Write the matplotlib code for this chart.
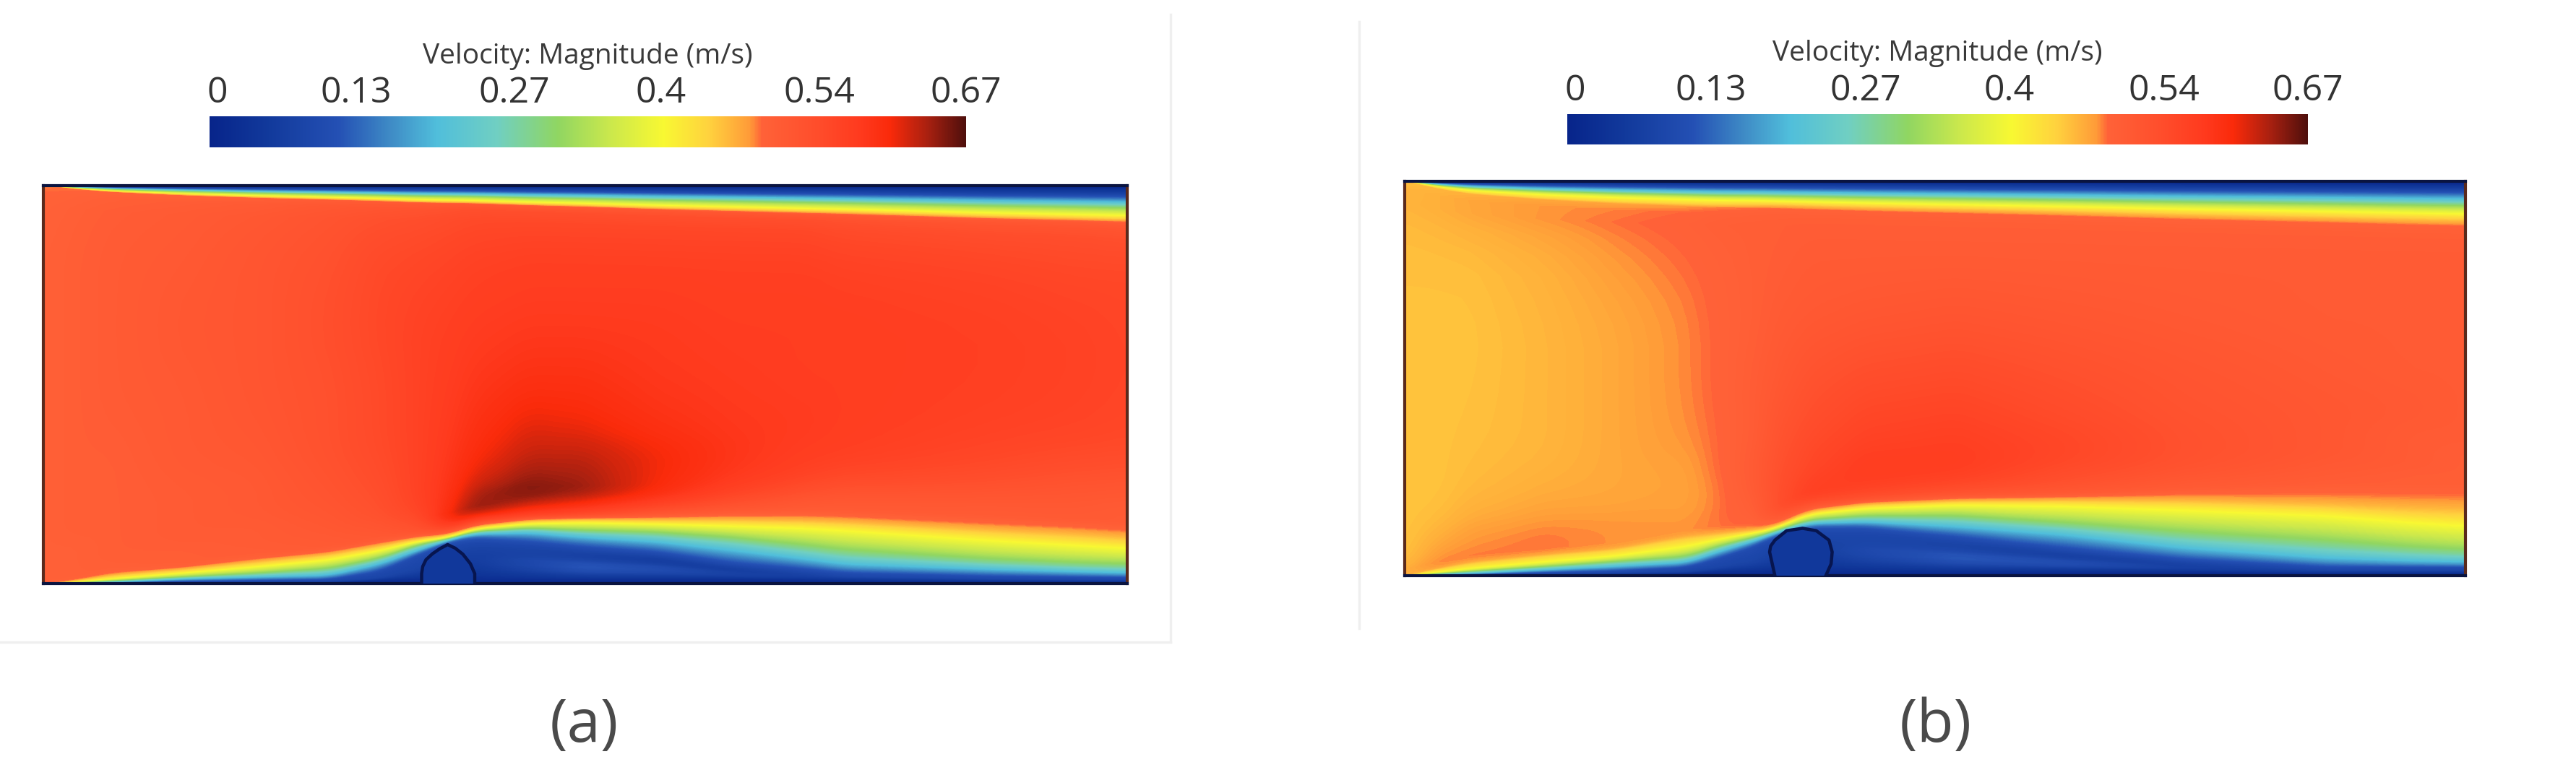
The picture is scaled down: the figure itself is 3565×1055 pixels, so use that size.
import numpy as np
import matplotlib
matplotlib.use("Agg")
import matplotlib.pyplot as plt
from matplotlib.cm import ScalarMappable
from matplotlib.colors import LinearSegmentedColormap, Normalize
from matplotlib.lines import Line2D

plt.rcParams['font.family'] = ['Open Sans', 'DejaVu Sans']

W, H = 3565, 1055
VMAX = 0.67
tick_values = [0.007, 0.13, 0.27, 0.40, 0.54, 0.67]  # first label sits slightly inside the bar
tick_labels = ["0", "0.13", "0.27", "0.4", "0.54", "0.67"]
cbar_title = "Velocity: Magnitude (m/s)"

# colour scale
cmap_pos = [0, .08, .17, .24, .30, .38, .46, .53, .60, .66, .715, .73, .80, .86, .90, .95, 1]
cmap_col = ['#07248a', '#123a9c', '#2450b4', '#3f8cc6', '#50bedb', '#70cfc2', '#90d662', '#cbe84c',
            '#f8f832', '#ffd23e', '#ff9a38', '#ff6238', '#ff4e2c', '#ff3a1e', '#fa2a0a', '#a82010', '#4f0f0c']
cmap = LinearSegmentedColormap.from_list("vel", list(zip(cmap_pos, cmap_col)), N=512)

# speeds of the shear layer rows
lev_dark, lev_blue, lev_cyan, lev_green, lev_yellow = 0.03, 0.10, 0.20, 0.31, 0.40
eta_rows = [0, .04, .08, .13, .2, .3, .45, .65, .85, 1]

# ---- panel a: heights in % of channel, x in % of length ----
a_x = [0, 3, 6.3, 13, 19.6, 26.3, 31, 34.6, 37.3, 39.7, 44.8, 49.9, 56.6, 63.4, 70.2, 74, 87.2, 95, 100]
a_blue = [0, .1, .2, .6, .8, 1.0, 3.0, 7.3, 10.3, 11.5, 10.6, 9.1, 7.8, 5.0, 3.5, 2.6, 1.8, 1.6, 1.5]
a_cyan = [0, .2, .4, 1.2, 1.7, 2.1, 5.0, 8.5, 10.9, 12.5, 12.9, 11.8, 10.6, 8.5, 6.2, 4.8, 3.6, 3.0, 2.7]
a_green = [0, .3, .8, 1.8, 2.7, 3.9, 6.5, 10, 11.3, 13.2, 14.1, 13.5, 13.1, 11.8, 9.8, 8.5, 6.1, 5.2, 4.8]
a_yellow = [0, .5, 1.2, 2.7, 4.2, 6, 8.3, 10.7, 11.6, 13.8, 15.1, 15.4, 15, 14.5, 14, 13.4, 10.9, 9.6, 8.8]
a_orange = [0, .9, 2.4, 3.9, 5.8, 7.6, 9.8, 11.6, 12.3, 14.4, 16, 16.3, 16.3, 16.4, 16.2, 15.9, 14.0, 13, 12.1]
a_core = [0, 1.3, 3, 4.5, 6.7, 8.5, 11, 12.6, 13, 15.4, 16.9, 17.2, 17.6, 18, 18.2, 18.0, 16.5, 15.6, 14.8]
a_low = [.05, .05, .05, .06, .06, .07, .08, .08, .06, .06, .10, .14, .12, .08, .06, .05, .05, .05, .05]
a_mid = [.08, .08, .08, .09, .09, .09, .09, .09, .08, .07, .07, .06, .05, .06, .08, .09, .09, .09, .09]
a_orange_v = [.47] * 19
a_top = [0, .8, 1.4, 2.1, 2.6, 3, 3.3, 3.6, 3.7, 3.8, 4.2, 4.5, 5, 5.4, 5.8, 6, 6.9, 7.3, 7.6]
a_ratio = [.12, .36, .55, .74, 1.0, 1.17, 1.3]  # depth of dark..core relative to the yellow line
a_field = [
    [.495, .495, .495, .50, .50, .505, .51, .52, .53, .54, .55, .54, .52, .51, .505, .505, .505, .505, .505],
    [.495, .495, .50, .50, .505, .51, .52, .54, .60, .645, .62, .60, .57, .54, .52, .515, .51, .51, .505],
    [.495, .495, .50, .505, .505, .515, .53, .555, .59, .635, .655, .64, .60, .565, .54, .53, .52, .515, .51],
    [.495, .50, .50, .505, .51, .52, .535, .56, .585, .615, .64, .635, .605, .58, .56, .55, .535, .525, .52],
    [.495, .50, .50, .505, .51, .525, .54, .56, .58, .60, .625, .625, .605, .585, .57, .565, .55, .54, .535],
    [.495, .50, .50, .51, .515, .53, .545, .56, .575, .59, .61, .605, .59, .58, .575, .57, .56, .555, .55],
    [.495, .50, .505, .51, .52, .53, .545, .56, .57, .58, .59, .59, .58, .575, .57, .57, .565, .56, .555],
    [.495, .50, .505, .515, .52, .535, .55, .56, .565, .57, .575, .575, .575, .57, .57, .57, .565, .56, .555],
    [.495, .50, .505, .51, .52, .53, .545, .55, .555, .56, .565, .565, .565, .565, .565, .56, .555, .55, .55],
    [.49, .495, .50, .505, .51, .52, .525, .53, .535, .54, .54, .54, .54, .54, .54, .535, .53, .53, .525],
]
a_obst_x = [34.9, 34.9, 35.0, 35.3, 35.9, 36.6, 37.3, 38.0, 38.7, 39.4, 39.8, 39.8]
a_obst_h = [0, 2.5, 4.3, 6.0, 7.5, 8.8, 9.8, 8.9, 7.4, 5.0, 2.5, 0]

# ---- panel b ----
b_x = [0, 3, 6.2, 13, 19.8, 26.6, 29.5, 33.7, 34.7, 38.1, 43.4, 52, 62.5, 73.3, 86.9, 95, 100]
b_blue = [0, .1, .3, .8, 1.2, 2.1, 4.3, 8.2, 10, 12.2, 12.2, 9.8, 6.7, 4, 2.1, 2.1, 2.1]
b_cyan = [0, .3, .6, 1.5, 2.4, 3.4, 6.1, 9.5, 10.7, 13.3, 13.7, 12.5, 10.4, 7, 4.3, 3.6, 3.4]
b_green = [0, .6, 1.2, 2.4, 3.7, 4.9, 7.6, 10.4, 11.3, 14.3, 15.3, 15.3, 13.4, 11.2, 8.9, 7.2, 6.4]
b_yellow = [0, .9, 1.8, 3.4, 4.9, 7.3, 9.2, 11.3, 11.9, 15.6, 17.1, 18, 17.7, 16.7, 15.3, 13.4, 12.5]
b_orange = [0, 1.6, 3, 4.9, 6.4, 9.5, 10.4, 11.9, 12.5, 16.5, 18.3, 19.2, 19.5, 19.5, 18.6, 17.7, 17.4]
b_core = [0, 2.2, 4, 5.8, 7.3, 10.7, 11.6, 12.8, 13.4, 17.7, 19.5, 20.5, 20.8, 21.9, 22.6, 22.8, 22.9]
b_low = [.05, .05, .05, .06, .06, .07, .08, .08, .07, .06, .10, .14, .12, .07, .05, .05, .05]
b_mid = [.08, .08, .08, .09, .09, .09, .09, .09, .08, .08, .08, .07, .06, .07, .09, .09, .09]
b_orange_v = [.43, .44, .44, .44, .44, .445, .45, .46, .47, .47, .47, .47, .47, .47, .47, .47, .47]
b_top = [0, 1.4, 2.4, 3.4, 4.1, 4.6, 4.8, 4.9, 5, 5.2, 5.5, 5.9, 6.4, 7, 7.6, 8, 8.2]
b_ratio = [.12, .33, .55, .76, 1.0, 1.28, 1.47]
b_field = [
    [.47, .485, .485, .485, .48, .48, .485, .49, .50, .52, .53, .52, .51, .505, .50, .50, .50],
    [.455, .475, .48, .485, .48, .478, .485, .50, .53, .565, .56, .55, .53, .515, .505, .50, .50],
    [.452, .465, .475, .48, .478, .475, .484, .505, .53, .56, .57, .565, .54, .525, .51, .505, .50],
    [.452, .456, .465, .472, .472, .474, .484, .51, .53, .55, .57, .57, .55, .53, .515, .505, .50],
    [.452, .452, .458, .465, .47, .475, .487, .51, .525, .545, .56, .565, .55, .53, .515, .505, .505],
    [.452, .452, .455, .46, .47, .48, .488, .505, .52, .535, .55, .555, .54, .525, .515, .51, .505],
    [.452, .452, .453, .46, .47, .482, .49, .505, .51, .525, .535, .54, .53, .52, .51, .505, .505],
    [.452, .452, .452, .46, .47, .482, .49, .50, .505, .51, .515, .52, .515, .51, .505, .505, .505],
    [.455, .455, .456, .465, .478, .488, .493, .50, .50, .505, .505, .505, .505, .505, .505, .505, .505],
    [.465, .47, .478, .486, .49, .495, .50, .50, .50, .50, .50, .50, .50, .50, .50, .50, .50],
]
b_obst_x = [34.9, 34.4, 34.5, 34.9, 36.0, 37.5, 38.8, 40.0, 40.3, 40.2, 39.7]
b_obst_h = [0, 6, 7.5, 9, 11.4, 12, 11.4, 9, 6, 3, 0]


def box_smooth(M, k, axis):
    # moving average, edges padded, so mesh rows do not show kinks
    pad = [(0, 0), (0, 0)]
    pad[axis] = (k // 2, k // 2)
    P = np.pad(M, pad, mode='edge')
    return np.apply_along_axis(lambda s: np.convolve(s, np.ones(k) / k, mode='valid'), axis, P)


def refine(x, M, x_fine, row_factor=3):
    M = np.array([np.interp(x_fine, x, row) for row in M])
    idx = np.arange(M.shape[0])
    idx_fine = np.linspace(0, idx[-1], idx[-1] * row_factor + 1)
    M = np.array([np.interp(idx_fine, idx, col) for col in M.T]).T
    return box_smooth(box_smooth(M, 11, 1), 3, 0)


def build_mesh(x, blue, cyan, green, yellow, orange, core, low, mid, orange_v, top, ratio, field):
    x = np.array(x, float)
    hb, hc, hg, hy, ho, hk = [np.array(a, float) for a in (blue, cyan, green, yellow, orange, core)]
    top_h = [100 - np.array(top, float) * r for r in ratio]
    one = np.ones(len(x))
    rows_y = [0 * one, np.minimum(1.2, hb * .3), hb * .45, hb * .72, hb, hc, hg, hy, ho]
    rows_v = [0 * one, lev_dark * one, np.array(low), np.array(mid), lev_blue * one, lev_cyan * one,
              lev_green * one, lev_yellow * one, np.array(orange_v)]
    for j, e in enumerate(eta_rows):
        rows_y.append(hk + e * (top_h[6] - hk))
        rows_v.append(np.array(field[j]))
    rows_y += [top_h[5], top_h[4], top_h[3], top_h[2], top_h[1], top_h[0], 100 * one]
    rows_v += [np.array(orange_v), lev_yellow * one, lev_green * one, lev_cyan * one,
               lev_blue * one, lev_dark * one, 0 * one]
    Y = np.array(rows_y)
    # keep rows stacked where they all meet in the inlet corners
    Y = np.maximum.accumulate(Y, axis=0) + np.arange(Y.shape[0])[:, None] * 1e-4
    x_fine = np.linspace(0, 100, 401)
    Yf = refine(x, Y, x_fine)
    Vf = refine(x, np.array(rows_v), x_fine)
    Xf = np.tile(x_fine, (Yf.shape[0], 1))
    return Xf, Yf, Vf


def panel(fig, box, X, Y, V, ox, oh, cbar_box, title_xy, letter, letter_xy):
    x0, x1, y0, y1 = box
    ax = fig.add_axes([x0 / W, 1 - y1 / H, (x1 - x0) / W, (y1 - y0) / H])
    ax.contourf(X, Y, V, levels=np.linspace(0, VMAX, 270), cmap=cmap, vmin=0, vmax=VMAX,
                extend='both', antialiased=False)
    ax.fill(ox, oh, color=cmap(.05 / VMAX), lw=0, zorder=3)
    ax.plot(ox, oh, color='#07154f', lw=3.2, solid_joinstyle='round', zorder=4)
    ax.set_xlim(0, 100)
    ax.set_ylim(0, 100)
    ax.set_xticks([])
    ax.set_yticks([])
    for side, sp in ax.spines.items():
        sp.set_linewidth(3)
        sp.set_color('#0a1440' if side in ('top', 'bottom') else '#5a2a1c')

    cx0, cx1, cy0, cy1 = cbar_box
    cax = fig.add_axes([cx0 / W, 1 - cy1 / H, (cx1 - cx0) / W, (cy1 - cy0) / H])
    cb = fig.colorbar(ScalarMappable(Normalize(0, VMAX), cmap), cax=cax, orientation='horizontal')
    cb.set_ticks(tick_values, labels=tick_labels)
    cb.outline.set_visible(False)
    cax.xaxis.set_ticks_position('top')
    cax.tick_params(length=0, pad=5, labelsize=36, labelcolor='#333333')

    fig.text(title_xy[0] / W, 1 - title_xy[1] / H, cbar_title, ha='center', va='center',
             fontsize=28, color='#3a3a3a')
    fig.text(letter_xy[0] / W, 1 - letter_xy[1] / H, letter, ha='center', va='center',
             fontsize=60, color='#4a4a4a')


fig = plt.figure(figsize=(W / 100, H / 100), dpi=100, facecolor='white')

Xa, Ya, Va = build_mesh(a_x, a_blue, a_cyan, a_green, a_yellow, a_orange, a_core,
                        a_low, a_mid, a_orange_v, a_top, a_ratio, a_field)
Xb, Yb, Vb = build_mesh(b_x, b_blue, b_cyan, b_green, b_yellow, b_orange, b_core,
                        b_low, b_mid, b_orange_v, b_top, b_ratio, b_field)

panel(fig, (60, 1560, 257, 808), Xa, Ya, Va, a_obst_x, a_obst_h, (290, 1337, 161, 204),
      (813, 78), "(a)", (808, 1006))
panel(fig, (1944, 3412, 251, 797), Xb, Yb, Vb, b_obst_x, b_obst_h, (2169, 3194, 158, 200),
      (2681, 74), "(b)", (2679, 1006))

# faint edges left over from the pasted screenshots
grey = '#efefef'
for xs, ys in [([1620, 1620], [20, 889]), ([0, 1620], [889, 889]), ([1881, 1881], [30, 870])]:
    fig.add_artist(Line2D(np.array(xs) / W, 1 - np.array(ys) / H, color=grey, lw=2.5))

fig.savefig("out.png", dpi=100, facecolor='white')
